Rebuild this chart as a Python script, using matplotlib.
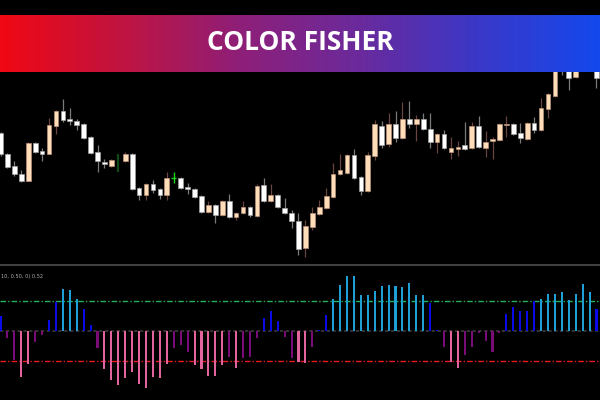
import numpy as np
import matplotlib
matplotlib.use("Agg")
import matplotlib.pyplot as plt
from matplotlib.colors import LinearSegmentedColormap

# ---------------- data ----------------
title = "COLOR FISHER"
indicator_label = "10, 0.50, 0) 0.52"

opens = [130, 109, 97, 89, 82, 120, 112, 109, 137, 152, 144, 142, 139, 126, 111, 101, 97, 100, 102, 109,
         75, 68, 79, 74, 68, 85, 85, 76, 74, 67, 51, 58, 48, 62, 46, 50, 56, 47, 78, 62,
         68, 55, 50, 42, 15, 36, 49, 55, 66, 89, 90, 108, 86, 72, 107, 137, 119, 139, 125, 144,
         139, 144, 134, 121, 129, 111, 114, 118, 115, 137, 115, 122, 123, 138, 139, 130, 124, 140, 133, 154,
         167, 203, 197, 186, 208, 201, 201]
highs = [131, 110, 102, 93, 121, 121, 115, 145, 153, 164, 155, 144, 140, 127, 118, 104, 104, 109, 111, 110,
         76, 80, 83, 75, 91, 91, 86, 80, 75, 68, 62, 59, 63, 69, 51, 62, 57, 79, 85, 79,
         69, 65, 53, 50, 43, 56, 63, 75, 100, 109, 109, 114, 87, 111, 143, 142, 150, 152, 161, 162,
         148, 150, 150, 130, 133, 126, 122, 141, 141, 147, 132, 126, 140, 147, 140, 140, 141, 146, 165, 170,
         203, 208, 201, 205, 211, 215, 203]
lows = [107, 95, 87, 81, 82, 110, 102, 109, 129, 141, 138, 133, 124, 109, 91, 95, 96, 91, 101, 73,
        63, 63, 70, 64, 63, 80, 74, 69, 65, 50, 50, 40, 47, 45, 43, 49, 46, 46, 61, 61,
        55, 49, 35, 8, 6, 33, 48, 54, 65, 88, 89, 84, 68, 71, 103, 115, 116, 121, 124, 135,
        122, 133, 115, 110, 114, 104, 107, 113, 114, 115, 106, 104, 122, 126, 128, 120, 123, 130, 132, 145,
        166, 188, 173, 185, 195, 197, 175]
closes = [109, 96, 89, 82, 120, 111, 109, 138, 152, 143, 142, 138, 125, 110, 102, 99, 103, 100, 109, 74,
          68, 79, 73, 68, 85, 85, 75, 74, 66, 51, 58, 48, 62, 46, 50, 56, 48, 77, 62, 68,
          56, 50, 42, 14, 37, 50, 56, 67, 89, 93, 108, 85, 72, 108, 139, 118, 139, 125, 144, 139,
          144, 134, 121, 129, 115, 115, 116, 114, 137, 116, 121, 124, 139, 139, 129, 125, 140, 133, 155, 169,
          198, 193, 185, 203, 198, 213, 185]

doji_idx = [17, 25]
doji_colors = ["#0f4a14", "#1ed21e"]

fisher = [15, -7, -28.7, -46, -33, -10.7, -3.7, 11, 29, 42, 41, 32, 22, 6.3, -17, -38, -49, -54, -47, -41,
          -53, -57, -46, -47, -33, -17, -14, -21, -34, -38, -44.7, -45, -34, -25.7, -37, -27, -25.7, -6.7, 13.3, 20,
          10, -5.7, -26.7, -31, -32, -16, 0.7, 16, 32, 46, 55, 55, 36, 36, 40, 45, 46, 45, 44, 47.7,
          36, 36, 28, 0.7, -15.7, -31, -37, -24, -15.7, -1.7, -9.7, -20.7, -1.7, 17, 24, 20, 20, 30, 32, 37,
          37, 39, 31, 37, 47, 39, 22]
upper_level = 30.3
lower_level = -29.5

# ---------------- styles ----------------
BG = "#000000"
UP_FILL = "#ffddb9"
UP_EDGE = "#b8907a"
UP_WICK = "#6a4440"
DN_FILL = "#ffffff"
DN_EDGE = "#a0a0a0"
DN_WICK = "#7a7a7a"
C_STRONG_UP = "#1e9fd6"
C_UP = "#0a0ae6"
C_DN = "#7a0c78"
C_STRONG_DN = "#e2649c"

W, H = 600, 400
fig = plt.figure(figsize=(6, 4), dpi=100, facecolor=BG)

n = len(opens)
x = np.arange(n)
xlim = (-0.5 / 6.93, (600 - 0.5) / 6.93)

# price panel: figure pixels y 0..263
ax = fig.add_axes([0, (H - 263) / H, 1, 263 / H])
ax.set_facecolor(BG)
ax.set_xlim(*xlim)
ax.set_ylim(0, 263)
ax.axis("off")

o = np.array(opens, float); h = np.array(highs, float)
l = np.array(lows, float); c = np.array(closes, float)
up = c >= o
is_doji = np.zeros(n, bool); is_doji[doji_idx] = True

for i in range(n):
    if is_doji[i]:
        continue
    ax.vlines(x[i], l[i], h[i], color=UP_WICK if up[i] else DN_WICK, lw=0.9, zorder=1)
body_w = 0.68
for i in range(n):
    if is_doji[i]:
        continue
    bottom = min(o[i], c[i]); height = max(abs(c[i] - o[i]), 1.2)
    ax.bar(x[i], height, bottom=bottom, width=body_w,
           color=UP_FILL if up[i] else DN_FILL,
           edgecolor=UP_EDGE if up[i] else DN_EDGE, linewidth=0.5, zorder=2)
for k, i in enumerate(doji_idx):
    ax.vlines(x[i], l[i], h[i], color=doji_colors[k], lw=1.6 if k == 0 else 1.0, zorder=2)
    if k == 1:
        ax.hlines(o[i], x[i] - 0.35, x[i] + 0.35, color=doji_colors[k], lw=1.0, zorder=2)

# indicator panel: figure pixels y 264..400, zero at 331
ax2 = fig.add_axes([0, 0, 1, 136 / H])
ax2.set_facecolor(BG)
ax2.set_xlim(*xlim)
ax2.set_ylim(-69, 67)
ax2.axis("off")
vals = np.array(fisher)
cols = []
for v in vals:
    if v > upper_level:
        cols.append(C_STRONG_UP)
    elif v >= 0:
        cols.append(C_UP)
    elif v < lower_level:
        cols.append(C_STRONG_DN)
    else:
        cols.append(C_DN)
ax2.bar(x, vals, width=0.3, color=cols, zorder=2)
ax2.axhline(0, color="#3a3a3a", lw=1.2, ls=(0, (2, 1.5)), zorder=1)
ax2.axhline(upper_level, color="#22b060", lw=1.0, ls=(0, (4, 1.5, 1, 1.5)), zorder=1)
ax2.axhline(lower_level, color="#e81c1c", lw=1.0, ls=(0, (4, 1.5, 1, 1.5)), zorder=1)
ax2.axhline(66, color="#404040", lw=1.5, zorder=3)
ax2.text(0.002, 0.905, indicator_label, transform=ax2.transAxes, color="#b0b0b0",
         fontsize=3.6, ha="left", va="center")

# banner: figure pixels y 15..72
bax = fig.add_axes([0, (H - 72) / H, 1, 57 / H])
bax.axis("off")
cmap = LinearSegmentedColormap.from_list(
    "banner", ["#f00814", "#c01440", "#8e1f78", "#6a2a9c", "#3a38c8", "#1448ec"])
grad = np.linspace(0, 1, 600).reshape(1, -1)
bax.imshow(grad, aspect="auto", cmap=cmap, extent=(0, 1, 0, 1))
bax.set_xlim(0, 1); bax.set_ylim(0, 1)
bax.text(0.5, 0.52, title, color="white", fontsize=19, fontweight="bold",
         family=["Open Sans", "DejaVu Sans"], ha="center", va="center")

fig.savefig("out.png", dpi=100, facecolor=BG)
